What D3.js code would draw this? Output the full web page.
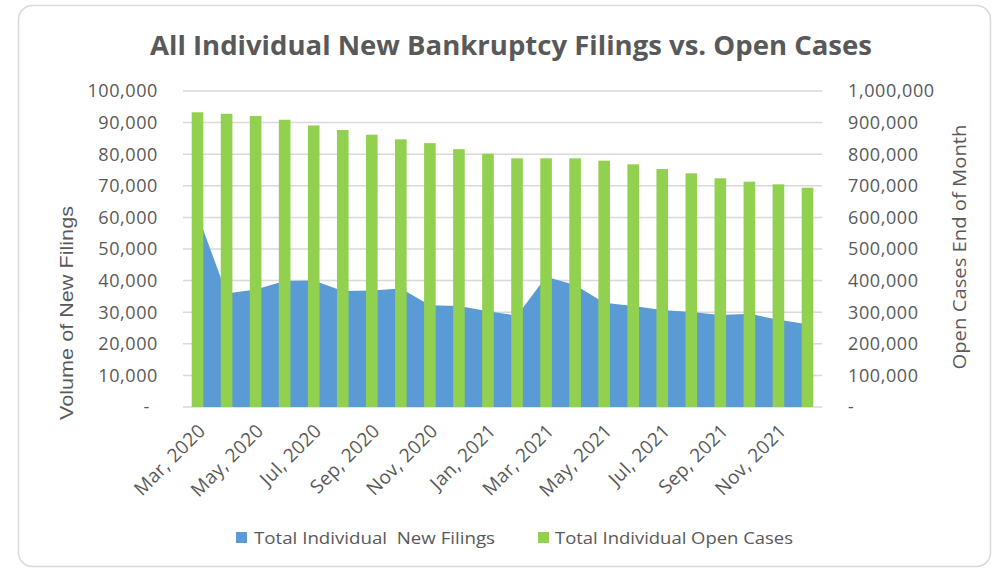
<!DOCTYPE html>
<html>
<head>
<meta charset="utf-8">
<script src="https://cdn.jsdelivr.net/npm/d3@7/dist/d3.min.js"></script>
<style>
  html, body { margin: 0; padding: 0; background: #fff; }
  svg { display: block; }
  text { white-space: pre; }
</style>
</head>
<body>
<svg id="chart" width="997" height="570"></svg>
<script>
// ---------- data ----------
const months = ["Mar, 2020","Apr, 2020","May, 2020","Jun, 2020","Jul, 2020","Aug, 2020","Sep, 2020","Oct, 2020","Nov, 2020","Dec, 2020",
                "Jan, 2021","Feb, 2021","Mar, 2021","Apr, 2021","May, 2021","Jun, 2021","Jul, 2021","Aug, 2021","Sep, 2021","Oct, 2021","Nov, 2021","Dec, 2021"];
const newFilings = [61000, 35900, 37200, 39900, 40000, 36700, 36900, 37500, 32200, 32000, 30300,
                    28900, 41200, 38600, 33000, 32000, 30700, 30100, 29100, 29500, 27600, 26200];
const openCases = [932600, 928000, 921000, 909000, 891000, 876600, 861700, 847000, 835000, 816000, 801600,
                   787000, 787000, 787000, 779500, 768000, 753000, 739500, 723700, 713000, 704700, 694000];
const leftTicks = [0, 10000, 20000, 30000, 40000, 50000, 60000, 70000, 80000, 90000, 100000];
const rightTicks = [0, 100000, 200000, 300000, 400000, 500000, 600000, 700000, 800000, 900000, 1000000];
const titleText = "All Individual New Bankruptcy Filings vs. Open Cases";
const leftTitle = "Volume of New Filings";
const rightTitle = "Open Cases End of Month";
const seriesNames = ["Total Individual  New Filings", "Total Individual Open Cases"];

// ---------- styles ----------
const BLUE = "#5B9BD5", GREEN = "#92D050", GRID = "#d9d9d9", TXT = "#595959";
const FONT = "'Open Sans', 'Noto Sans', sans-serif";

const svg = d3.select("#chart");
const plot = {left: 183, right: 822, top: 91, bottom: 407};

// chart area border
svg.append("rect").attr("x", 18.5).attr("y", 5.5).attr("width", 972).attr("height", 561)
  .attr("rx", 14).attr("fill", "#fff").attr("stroke", GRID).attr("stroke-width", 1.5);

const x = d3.scaleBand().domain(months).range([plot.left, plot.right]).paddingInner(0.6).paddingOuter(0.3);
const yL = d3.scaleLinear().domain([0, 100000]).range([plot.bottom, plot.top]);
const yR = d3.scaleLinear().domain([0, 1000000]).range([plot.bottom, plot.top]);
const fmt = d3.format(",");

// gridlines
svg.append("g").selectAll("line").data(leftTicks).join("line")
  .attr("x1", plot.left).attr("x2", plot.right)
  .attr("y1", d => yL(d)).attr("y2", d => yL(d))
  .attr("stroke", GRID).attr("stroke-width", 1.5);

// left axis labels
svg.append("g").selectAll("text").data(leftTicks).join("text")
  .attr("x", d => d === 0 ? 150 : 158).attr("y", d => yL(d))
  .attr("dy", "0.35em").attr("text-anchor", "end")
  .attr("font-family", FONT).attr("font-size", 18).attr("letter-spacing", 0.6).attr("fill", TXT)
  .text(d => d === 0 ? "-" : fmt(d));

// right axis labels
svg.append("g").selectAll("text").data(rightTicks).join("text")
  .attr("x", 848).attr("y", d => yR(d))
  .attr("dy", "0.35em").attr("text-anchor", "start")
  .attr("font-family", FONT).attr("font-size", 18).attr("letter-spacing", 0.6).attr("fill", TXT)
  .text(d => d === 0 ? "-" : fmt(d));

// area (new filings) at category centres
const cx = d => x(d) + x.bandwidth() / 2;
const area = d3.area()
  .x((d, i) => cx(months[i]))
  .y0(yL(0))
  .y1(d => yL(d));
svg.append("path").datum(newFilings).attr("d", area).attr("fill", BLUE);

// bars (open cases)
svg.append("g").selectAll("rect").data(openCases).join("rect")
  .attr("x", (d, i) => x(months[i]))
  .attr("width", x.bandwidth())
  .attr("y", d => yR(d))
  .attr("height", d => yR(0) - yR(d))
  .attr("fill", GREEN);

// x labels every other month
svg.append("g").selectAll("text").data(months.filter((m, i) => i % 2 === 0)).join("text")
  .attr("transform", d => `translate(${cx(d) + 9},${432}) rotate(-45)`)
  .attr("text-anchor", "end")
  .attr("font-family", FONT).attr("font-size", 19).attr("letter-spacing", 0.3).attr("fill", TXT)
  .text(d => d);

// helper to fit text length
function fit(sel, len) {
  sel.attr("textLength", len).attr("lengthAdjust", "spacingAndGlyphs");
}

// title
fit(svg.append("text").attr("x", 511).attr("y", 55).attr("text-anchor", "middle")
  .attr("font-family", FONT).attr("font-weight", "bold").attr("font-size", 27).attr("fill", TXT)
  .text(titleText), 722);

// axis titles
fit(svg.append("text").attr("transform", "translate(73,313) rotate(-90)").attr("text-anchor", "middle")
  .attr("font-family", "'Liberation Sans', Arial, sans-serif").attr("font-size", 19).attr("fill", TXT)
  .text(leftTitle), 214);
fit(svg.append("text").attr("transform", "translate(966,247) rotate(-90)").attr("text-anchor", "middle")
  .attr("font-family", FONT).attr("font-size", 19).attr("fill", TXT)
  .text(rightTitle), 245);

// legend
const legend = [
  {name: seriesNames[0], color: BLUE, sx: 236, tx: 254, len: 241},
  {name: seriesNames[1], color: GREEN, sx: 538, tx: 555, len: 238}
];
legend.forEach(l => {
  svg.append("rect").attr("x", l.sx).attr("y", 532).attr("width", 11).attr("height", 11).attr("fill", l.color);
  fit(svg.append("text").attr("x", l.tx).attr("y", 544)
    .attr("font-family", FONT).attr("font-size", 17).attr("fill", TXT)
    .text(l.name), l.len);
});
</script>
</body>
</html>
